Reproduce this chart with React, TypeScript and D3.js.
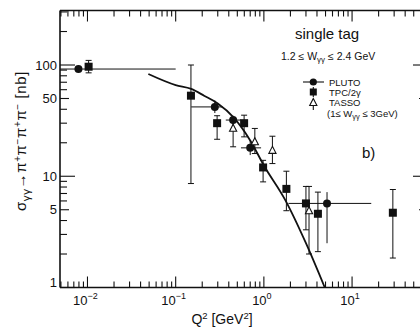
import React from "react";
import * as d3 from "d3";

// ---- data ----
const xTickExps = [-2, -1, 0, 1];
const yTickLabels = [1, 5, 10, 50, 100];

const plutoQ2 = [0.0079, 0.278, 0.448, 0.7, 5.2];
const plutoSigma = [92, 42, 32, 18, 5.7];
const plutoQ2Lo = [0.0049, 0.15, 0.37, 0.55, 1.9];
const plutoQ2Hi = [0.1, 0.34, 0.55, 0.93, 16.5];
const plutoSigLo = [92, 37, 29, 15.5, 2.5];
const plutoSigHi = [92, 48, 35, 21, 7.2];

const tpcQ2 = [0.0103, 0.149, 0.295, 0.597, 0.98, 1.8, 3.0, 4.1, 29];
const tpcSigma = [96.5, 53, 30, 30, 12, 7.7, 5.7, 4.6, 4.7];
const tpcLo = [85, 8.6, 21.5, 22.6, 8.9, 4.9, 3.3, 2.1, 1.84];
const tpcHi = [110, 100, 35, 35.4, 13.9, 11.1, 8.1, 7.2, 7.6];

const tassoQ2 = [0.448, 0.79, 1.25, 3.25];
const tassoSigma = [27, 20.4, 17.1, 4.9];
const tassoLo = [18.4, 16, 13, 2.0];
const tassoHi = [33, 26.9, 22.9, 8.1];

const curveQ2 = [0.049, 0.1, 0.15, 0.21, 0.3, 0.45, 0.7, 1.0, 1.75, 3.0, 4.9];
const curveSigma = [83, 66, 61, 53, 45, 34, 21, 12.5, 6.1, 2.5, 1.0];

const W = 420;
const H = 332;
const left = 60;
const right = 428;
const top = 10.5;
const bottom = 287.5;

const x = d3.scaleLog().domain([0.00488, 72.6]).range([left, right]);
const y = d3.scaleLog().domain([1, 309]).range([bottom, top]);

const FONT = "'Liberation Sans', Arial, sans-serif";

function decadeTicks(lo: number, hi: number) {
  const out: { v: number; k: number }[] = [];
  for (let n = -4; n <= 3; n++) {
    for (let k = 1; k <= 9; k++) {
      const v = k * Math.pow(10, n);
      if (v >= lo * 0.999 && v <= hi) out.push({ v, k });
    }
  }
  return out;
}

export default function App() {
  const xt = decadeTicks(x.domain()[0], x.domain()[1]);
  const yt = decadeTicks(1, y.domain()[1]);
  const line = d3
    .line<number>()
    .x((_, i) => x(curveQ2[i]))
    .y((d) => y(d))
    .curve(d3.curveMonotoneX);
  const cap = 3;
  const tri = (cx: number, cy: number) =>
    `M${cx},${cy - 4} L${cx + 3.6},${cy + 3} L${cx - 3.6},${cy + 3} Z`;

  return (
    <svg
      width={W}
      height={H}
      style={{ position: "absolute", left: 0, top: 0, background: "#fff" }}
      fontFamily={FONT}
    >
      <rect width={W} height={H} fill="#fff" />
      {/* frame */}
      <g stroke="#111" strokeWidth={1.6} fill="none">
        <line x1={left} x2={left} y1={top} y2={bottom} />
        <line x1={right} x2={right} y1={top} y2={bottom} />
        <line x1={left} x2={right} y1={top} y2={top} />
        <line x1={left} x2={right} y1={bottom} y2={bottom} />
      </g>
      {/* x ticks */}
      <g stroke="#111" strokeWidth={1.1}>
        {xt.map((t, i) => {
          const len = t.k === 1 ? 11 : 6;
          const px = x(t.v);
          return (
            <g key={i}>
              <line x1={px} x2={px} y1={bottom} y2={bottom - len} />
              <line x1={px} x2={px} y1={top} y2={top + len} />
            </g>
          );
        })}
      </g>
      {/* y ticks */}
      <g stroke="#111" strokeWidth={1.1}>
        {yt.map((t, i) => {
          const len = t.k === 1 ? 15 : t.k === 5 ? 9 : 7;
          const py = y(t.v);
          return (
            <g key={i}>
              <line x1={left} x2={left + len} y1={py} y2={py} />
              <line x1={right} x2={right - len} y1={py} y2={py} />
            </g>
          );
        })}
      </g>
      {/* y tick labels */}
      <g fontSize={13} textAnchor="end" fill="#111">
        {yTickLabels.map((v) => (
          <text key={v} x={left - 3} y={y(v) + 4.5 - (v === 1 ? 5 : 0)}>
            {v}
          </text>
        ))}
      </g>
      {/* x tick labels */}
      <g fontSize={13} fill="#111">
        {xTickExps.map((e) => (
          <text key={e} x={x(Math.pow(10, e)) - 2} y={305} textAnchor="middle">
            10
            <tspan fontSize={9} dy={-6}>
              {e < 0 ? "\u2212" + Math.abs(e) : String(e)}
            </tspan>
          </text>
        ))}
      </g>
      {/* axis titles */}
      <text x={222} y={324} fontSize={14} textAnchor="middle" fill="#111">
        Q<tspan fontSize={9.5} dy={-5.5}>2</tspan>
        <tspan dy={5.5}> [GeV</tspan>
        <tspan fontSize={9.5} dy={-5.5}>2</tspan>
        <tspan dy={5.5}>]</tspan>
      </text>
      <text
        transform="translate(26,141) rotate(-90)"
        fontSize={15}
        textAnchor="middle"
        fill="#111"
        letterSpacing={0.6}
      >
        σ<tspan fontSize={11.5} dy={4}>γγ</tspan>
        <tspan dy={-4}>→π</tspan>
        <tspan fontSize={10} dy={-5.5}>+</tspan>
        <tspan dy={5.5}>π</tspan>
        <tspan fontSize={10} dy={-5.5}>−</tspan>
        <tspan dy={5.5}>π</tspan>
        <tspan fontSize={10} dy={-5.5}>+</tspan>
        <tspan dy={5.5}>π</tspan>
        <tspan fontSize={10} dy={-5.5}>−</tspan>
        <tspan dy={5.5}> [nb]</tspan>
      </text>

      {/* curve */}
      <path d={line(curveSigma) || ""} fill="none" stroke="#111" strokeWidth={1.8} />

      {/* PLUTO */}
      <g stroke="#111" strokeWidth={1}>
        {plutoQ2.map((q, i) => (
          <g key={i}>
            <line
              x1={Math.max(left, x(plutoQ2Lo[i]))}
              x2={x(plutoQ2Hi[i])}
              y1={y(plutoSigma[i])}
              y2={y(plutoSigma[i])}
            />
            <line x1={x(q)} x2={x(q)} y1={y(plutoSigLo[i])} y2={y(plutoSigHi[i])} />
            <circle cx={x(q)} cy={y(plutoSigma[i])} r={4} fill="#111" stroke="none" />
          </g>
        ))}
      </g>
      {/* TPC/2gamma */}
      <g stroke="#111" strokeWidth={1}>
        {tpcQ2.map((q, i) => {
          const px = x(q);
          return (
            <g key={i}>
              <line x1={px} x2={px} y1={y(tpcLo[i])} y2={y(tpcHi[i])} />
              <line x1={px - cap} x2={px + cap} y1={y(tpcLo[i])} y2={y(tpcLo[i])} />
              <line x1={px - cap} x2={px + cap} y1={y(tpcHi[i])} y2={y(tpcHi[i])} />
              <rect x={px - 4} y={y(tpcSigma[i]) - 4} width={8} height={8} fill="#111" stroke="none" />
            </g>
          );
        })}
      </g>
      {/* TASSO */}
      <g stroke="#111" strokeWidth={1}>
        {tassoQ2.map((q, i) => {
          const px = x(q);
          return (
            <g key={i}>
              <line x1={px} x2={px} y1={y(tassoLo[i])} y2={y(tassoHi[i])} />
              <line x1={px - cap} x2={px + cap} y1={y(tassoLo[i])} y2={y(tassoLo[i])} />
              <line x1={px - cap} x2={px + cap} y1={y(tassoHi[i])} y2={y(tassoHi[i])} />
              <path d={tri(px, y(tassoSigma[i]))} fill="#fff" strokeWidth={1.1} />
            </g>
          );
        })}
      </g>

      {/* annotations & legend */}
      <text x={295} y={39} fontSize={15} fill="#111">single tag</text>
      <text x={281} y={60} fontSize={10.5} fill="#111">
        1.2 ≤ W<tspan fontSize={8} dy={2}>γγ</tspan>
        <tspan dy={-2}> ≤ 2.4 GeV</tspan>
      </text>
      <g stroke="#111" strokeWidth={1.1}>
        <line x1={303} x2={324} y1={82} y2={82} />
        <circle cx={313.3} cy={82} r={3.6} fill="#111" stroke="none" />
        <line x1={313.3} x2={313.3} y1={87} y2={97} />
        <rect x={309.8} y={88.5} width={7} height={7} fill="#111" stroke="none" />
        <line x1={313.3} x2={313.3} y1={99} y2={110} />
        <path d={tri(313.3, 102.5)} fill="#fff" />
      </g>
      <g fontSize={9.5} fill="#111">
        <text x={329} y={85.5}>PLUTO</text>
        <text x={329} y={96}>TPC/2γ</text>
        <text x={329} y={106}>TASSO</text>
        <text x={327} y={117}>
          (1≤ W<tspan fontSize={7.5} dy={1.5}>γγ</tspan>
          <tspan dy={-1.5}> ≤ 3GeV)</tspan>
        </text>
      </g>
      <text x={362} y={158} fontSize={15} fill="#111">b)</text>
    </svg>
  );
}
